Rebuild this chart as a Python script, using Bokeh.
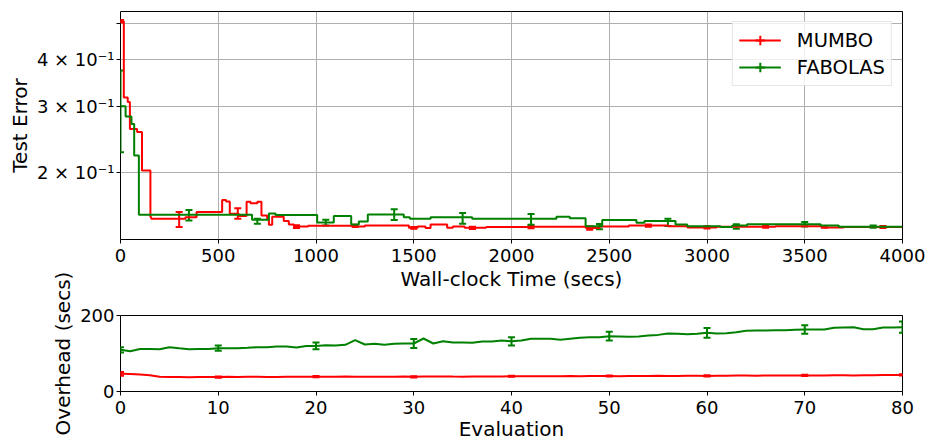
from bokeh.plotting import figure
from bokeh.models import (ColumnDataSource, Whisker, TeeHead, FixedTicker, Legend,
                          LegendItem, Range1d)
from bokeh.layouts import column
from bokeh.embed import file_html
from bokeh.resources import INLINE

FONT = "DejaVu Sans"
RED = "#ff0000"
GREEN = "#008000"

# ---------------- top panel: test error vs wall-clock time ----------------
mumbo_t = [0, 17, 37, 48, 85, 110, 153, 157, 332, 389,
           520, 540, 559, 605, 645, 665, 700, 721, 750, 759,
           776, 835, 861, 887, 960, 1210, 1250, 1475, 1520, 1560,
           1586, 1671, 1700, 1760, 1870, 2097, 2380, 2450, 2600, 2800,
           2900, 3050, 3350, 3600, 3700, 4000]
mumbo_err_val = [0.507, 0.318, 0.309, 0.262, 0.257, 0.203, 0.1526, 0.151, 0.1525, 0.1575,
                 0.1695, 0.168, 0.1557, 0.1536, 0.1676, 0.166, 0.1676, 0.154, 0.151, 0.1455,
                 0.153, 0.1489, 0.1458, 0.144, 0.1447, 0.144, 0.145, 0.1429, 0.144, 0.1428,
                 0.1458, 0.1429, 0.144, 0.1429, 0.1435, 0.1438, 0.1427, 0.144, 0.1449, 0.1442,
                 0.1432, 0.1438, 0.1442, 0.1432, 0.1436, 0.1436]

fabolas_t = [0, 26, 56, 70, 94, 673, 759, 793, 1006, 1091,
             1180, 1219, 1265, 1449, 1480, 1586, 1799, 2230, 2298, 2379,
             2464, 2639, 2680, 2839, 2899, 3069, 3129, 3205, 3581, 3674, 4000]
fabolas_err_val = [0.301, 0.283, 0.270, 0.2226, 0.1548, 0.1502, 0.156, 0.1545, 0.1476, 0.1536,
                   0.1458, 0.1486, 0.155, 0.1525, 0.151, 0.1525, 0.151, 0.153, 0.1516, 0.1443,
                   0.150, 0.1473, 0.1489, 0.1458, 0.1443, 0.1436, 0.1449, 0.146, 0.1449, 0.1439,
                   0.1439]

mumbo_bar_t = [0, 300, 600, 900, 1200, 1500, 1800, 2100, 2400, 2700, 3000, 3300, 3600, 3900]
mumbo_bar_mean = [0.507, 0.1505, 0.156, 0.144, 0.1447, 0.1429, 0.1429, 0.1438, 0.1427,
                  0.1449, 0.1432, 0.1438, 0.1437, 0.1436]
mumbo_bar_std = [0.004, 0.007, 0.005, 0.0012, 0.001, 0.0008, 0.001, 0.0012, 0.0015,
                 0.001, 0.001, 0.0008, 0.0008, 0.0008]

fabolas_bar_t = [0, 350, 700, 1050, 1400, 1750, 2100, 2450, 2800, 3150, 3500, 3850]
fabolas_bar_mean = [0.301, 0.1545, 0.1487, 0.1476, 0.155, 0.1515, 0.1506, 0.144,
                    0.1478, 0.144, 0.146, 0.144]
fabolas_bar_std = [0.074, 0.005, 0.0023, 0.0026, 0.005, 0.005, 0.005, 0.0023,
                   0.0033, 0.002, 0.002, 0.001]

x_ticks_top = [0, 500, 1000, 1500, 2000, 2500, 3000, 3500, 4000]
y_ticks_top = [0.2, 0.3, 0.4, 0.5]
y_labels_top = ["2 × 10⁻¹", "3 × 10⁻¹", "4 × 10⁻¹", ""]

# ---------------- bottom panel: overhead per evaluation ----------------
evaluations = list(range(81))
mumbo_overhead = [46.5, 45.8, 44.7, 42.5, 38.8, 38.2, 38.0, 37.8, 38.2, 38.4,
                  38.0, 38.5, 38.3, 38.7, 38.6, 38.0, 38.4, 38.8, 38.6, 38.9,
                  39.0, 38.8, 39.0, 39.2, 39.0, 38.8, 39.1, 38.7, 39.0, 39.3,
                  38.6, 39.2, 39.4, 39.6, 39.2, 39.0, 39.3, 39.5, 39.4, 39.7,
                  40.0, 40.3, 40.1, 40.4, 40.0, 40.2, 40.6, 40.4, 40.8, 41.0,
                  40.7, 40.2, 40.5, 40.6, 40.9, 41.2, 41.0, 41.1, 41.4, 41.3,
                  41.0, 41.6, 41.5, 41.9, 42.0, 41.7, 41.9, 42.1, 41.8, 42.2,
                  42.4, 42.1, 42.3, 42.5, 42.6, 42.4, 42.8, 42.7, 43.1, 43.3,
                  43.6]
fabolas_overhead = [109.7, 106, 112, 112, 111, 116.7, 114, 111.4, 112, 112,
                    114, 114, 114, 115, 116.7, 116.7, 118.4, 118.4, 115.8, 120,
                    120, 121.9, 121, 122.8, 135, 123.7, 125.4, 122.8, 125.4, 126.3,
                    126.3, 139.5, 126.3, 132.4, 128.9, 128.9, 128, 131.6, 131.6, 134.2,
                    132, 134.2, 138.6, 138.6, 138.6, 136, 138.6, 141.2, 143, 143,
                    145.6, 145, 144.4, 145, 147.4, 149, 152.6, 152, 150.6, 152,
                    154.4, 152.6, 153.5, 156, 159.6, 160.5, 160.5, 161.4, 161.4, 162.3,
                    163.2, 163.2, 163.2, 167.5, 168.4, 169.3, 164, 164, 168.4, 168.4,
                    169.3]
bar_every = 10
mumbo_overhead_std = [5, 1.5, 1.5, 1.5, 1.5, 1.5, 1.5, 1.5, 1.5]
fabolas_overhead_std = [7, 7, 8.7, 12, 11, 11.4, 13, 11.4, 15]

x_ticks_bot = [0, 10, 20, 30, 40, 50, 60, 70, 80]
y_ticks_bot = [0, 200]


def style(p):
    p.background_fill_color = "white"
    p.outline_line_color = "black"
    p.outline_line_width = 1
    for ax in (p.xaxis[0], p.yaxis[0]):
        ax.axis_line_color = None
        ax.major_tick_line_color = "black"
        ax.major_tick_line_width = 1
        ax.major_tick_in = 0
        ax.major_tick_out = 4
        ax.minor_tick_line_color = None
        ax.major_label_text_font = FONT
        ax.major_label_text_font_size = "18px"
        ax.major_label_text_color = "black"
        ax.major_label_standoff = 2
        ax.axis_label_text_font = FONT
        ax.axis_label_text_font_size = "20px"
        ax.axis_label_text_font_style = "normal"
        ax.axis_label_text_color = "black"
        ax.axis_label_standoff = 2
    p.xaxis[0].major_label_standoff = 5


def add_bars(p, xs, means, stds, color):
    src = ColumnDataSource(dict(
        x=xs,
        upper=[m + s for m, s in zip(means, stds)],
        lower=[m - s for m, s in zip(means, stds)],
    ))
    w = Whisker(base="x", upper="upper", lower="lower", source=src,
                line_color=color, line_width=2,
                upper_head=TeeHead(size=7, line_color=color, line_width=2),
                lower_head=TeeHead(size=7, line_color=color, line_width=2))
    p.add_layout(w)


top = figure(frame_width=782, frame_height=228, y_axis_type="log",
             x_range=Range1d(0, 4000), y_range=Range1d(0.133, 0.5385),
             output_backend="svg", toolbar_location=None,
             min_border_left=120, min_border_right=25, min_border_top=11,
             min_border_bottom=55)
style(top)
top.border_fill_color = "white"
top.xaxis.axis_label = "Wall-clock Time (secs)"
top.yaxis.axis_label = "Test Error"
top.xaxis.ticker = FixedTicker(ticks=x_ticks_top, minor_ticks=[])
top.yaxis.ticker = FixedTicker(ticks=y_ticks_top, minor_ticks=[])
top.yaxis.major_label_overrides = {t: lab for t, lab in zip(y_ticks_top, y_labels_top)}
top.grid.grid_line_color = "#b0b0b0"
top.grid.grid_line_width = 1
top.xgrid.ticker = FixedTicker(ticks=x_ticks_top)
top.ygrid.ticker = FixedTicker(ticks=y_ticks_top)

r_m = top.step(x=mumbo_t, y=mumbo_err_val, mode="after", line_color=RED, line_width=2)
add_bars(top, mumbo_bar_t, mumbo_bar_mean, mumbo_bar_std, RED)
r_f = top.step(x=fabolas_t, y=fabolas_err_val, mode="after", line_color=GREEN, line_width=2)
add_bars(top, fabolas_bar_t, fabolas_bar_mean, fabolas_bar_std, GREEN)

# invisible (size 0) markers used only for the legend's error-bar symbol
s_m = top.scatter(x=mumbo_bar_t, y=mumbo_bar_mean, marker="cross", size=0,
                  line_color=RED, line_width=2)
s_f = top.scatter(x=fabolas_bar_t, y=fabolas_bar_mean, marker="cross", size=0,
                  line_color=GREEN, line_width=2)

legend = Legend(items=[LegendItem(label="MUMBO", renderers=[r_m, s_m]),
                       LegendItem(label="FABOLAS", renderers=[r_f, s_f])],
                location="top_right", margin=10, padding=6, spacing=3,
                glyph_width=42, glyph_height=24, label_standoff=16,
                label_text_font=FONT, label_text_font_size="19.5px",
                label_text_color="black",
                border_line_color="#cccccc", border_line_width=1,
                background_fill_color="white", background_fill_alpha=0.8)
top.add_layout(legend)

# bottom panel overlaps the top panel's lower border (transparent border) so its
# long y-axis label can extend upward like in the original
bot = figure(frame_width=782, frame_height=76,
             x_range=Range1d(0, 80), y_range=Range1d(0, 200),
             output_backend="svg", toolbar_location=None,
             min_border_left=120, min_border_right=25, min_border_top=50,
             min_border_bottom=54)
style(bot)
bot.xaxis.axis_label_standoff = 0
bot.border_fill_alpha = 0
bot.margin = (-29, 0, 0, 0)
bot.grid.visible = False
bot.xaxis.axis_label = "Evaluation"
bot.yaxis.axis_label = "Overhead (secs)"
bot.xaxis.ticker = FixedTicker(ticks=x_ticks_bot, minor_ticks=[])
bot.yaxis.ticker = FixedTicker(ticks=y_ticks_bot, minor_ticks=[])

bot.line(evaluations, mumbo_overhead, line_color=RED, line_width=2)
add_bars(bot, evaluations[::bar_every], mumbo_overhead[::bar_every], mumbo_overhead_std, RED)
bot.line(evaluations, fabolas_overhead, line_color=GREEN, line_width=2)
add_bars(bot, evaluations[::bar_every], fabolas_overhead[::bar_every], fabolas_overhead_std, GREEN)

layout = column(top, bot)
open("out.html", "w").write(file_html(layout, INLINE))
